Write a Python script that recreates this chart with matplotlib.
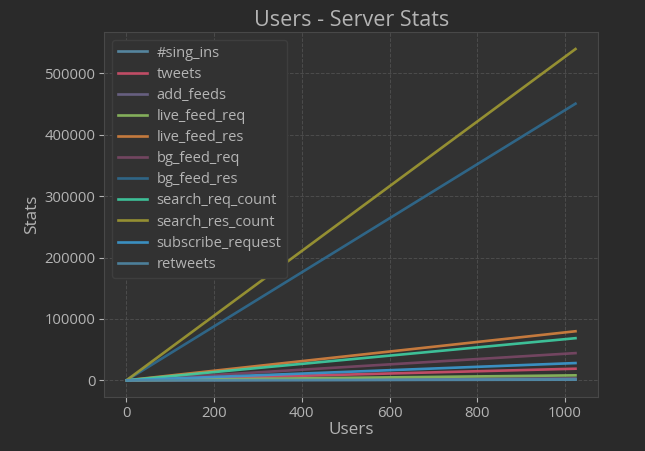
import numpy as np
import matplotlib.pyplot as plt

# dane
users = [1, 2, 4, 8, 16, 32, 64, 128, 256, 512, 1024]
labels = ['#sing_ins', 'tweets', 'add_feeds', 'live_feed_req', 'live_feed_res',
          'bg_feed_req', 'bg_feed_res', 'search_req_count', 'search_res_count',
          'subscribe_request', 'retweets']
sing_ins = [1, 2, 4, 8, 16, 32, 64, 128, 256, 512, 1024]
tweets = [18, 37, 74, 148, 296, 592, 1185, 2370, 4740, 9480, 18900]
add_feeds = [3, 6, 12, 24, 48, 96, 190, 380, 760, 1520, 3050]
live_feed_req = [8, 16, 32, 64, 128, 256, 510, 1020, 2040, 4080, 8100]
live_feed_res = [78, 156, 312, 624, 1250, 2500, 5000, 10000, 20000, 40000, 79900]
bg_feed_req = [43, 86, 173, 346, 692, 1385, 2770, 5540, 11080, 22150, 44300]
bg_feed_res = [440, 880, 1760, 3520, 7040, 14080, 28150, 56300, 112600, 225200, 450500]
search_req_count = [67, 134, 268, 536, 1072, 2144, 4290, 8580, 17150, 34300, 68600]
search_res_count = [527, 1054, 2108, 4215, 8430, 16860, 33720, 67440, 134900, 269700, 539500]
subscribe_request = [27, 55, 110, 220, 440, 880, 1760, 3520, 7030, 14060, 28100]
retweets = [2, 3, 6, 12, 24, 48, 96, 192, 384, 768, 1600]

series = [sing_ins, tweets, add_feeds, live_feed_req, live_feed_res, bg_feed_req,
          bg_feed_res, search_req_count, search_res_count, subscribe_request, retweets]
colors = ['#5a8fab', '#d1506c', '#6d6589', '#8dbd5f', '#d5823f', '#7a4866',
          '#2f6b90', '#3fcfa3', '#a09a33', '#3c9ad1', '#4f88a6']

plt.rcParams['font.family'] = ['Open Sans', 'DejaVu Sans']
txt = '#b4b4b4'

fig = plt.figure(figsize=(6.45, 4.51), dpi=100, facecolor='#2a2a2a')
ax = fig.add_axes([0.162, 0.120, 0.765, 0.808], facecolor='#323232')

for s, lab, c in zip(series, labels, colors):
    ax.plot(users, s, color=c, lw=1.9, alpha=0.9, label=lab)

ax.set_title('Users - Server Stats', color=txt, fontsize=15.5, pad=5)
ax.set_xlabel('Users', color=txt, fontsize=12.3, labelpad=1)
ax.set_ylabel('Stats', color=txt, fontsize=12.3, labelpad=3)
ax.tick_params(colors=txt, labelsize=10.7, pad=3)
ax.grid(True, color='#4c4c4c', ls='--', lw=0.7)
for sp in ax.spines.values():
    sp.set_color('#484848')

leg = ax.legend(loc='upper left', fontsize=10.5, facecolor='#323232', edgecolor='#3e3e3e',
                framealpha=1, labelcolor=txt, handlelength=2.0, handletextpad=0.65,
                labelspacing=0.42, borderaxespad=0.5)

fig.savefig('out.png', facecolor=fig.get_facecolor())
